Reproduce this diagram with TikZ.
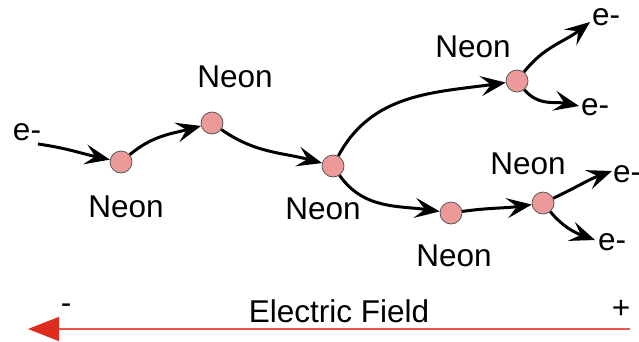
\documentclass[tikz,border=0pt]{standalone}
\usepackage{fontspec}
\setmainfont{Liberation Sans}
\usetikzlibrary{arrows.meta}
\definecolor{neonfill}{RGB}{236,153,153}
\definecolor{fieldred}{RGB}{222,45,30}
\definecolor{fieldline}{RGB}{235,85,75}
\tikzset{
  atom/.style={circle,draw=black!70,line width=0.7pt,fill=neonfill,minimum size=22pt,inner sep=0pt},
  lbl/.style={font=\fontsize{31.5}{36}\selectfont,inner sep=0pt},
  path/.style={line width=3pt,-{Stealth[length=25pt,width=20pt,inset=10pt]}}
}
\begin{document}
\begin{tikzpicture}[x=1pt,y=1pt]
\useasboundingbox (0,0) rectangle (639,341);
% atoms
\node[atom] (A) at (121,179) {};
\node[atom] (B) at (212,218) {};
\node[atom] (C) at (333,175) {};
\node[atom] (D) at (517,260) {};
\node[atom] (E) at (451,128) {};
\node[atom] (F) at (543,138) {};
% labels
\node[lbl] (ein) at (27,209) {e-};
\node[lbl] (nA) at (126,134) {Neon};
\node[lbl] (nB) at (235,264) {Neon};
\node[lbl] (nC) at (323,132) {Neon};
\node[lbl] (nD) at (473,294) {Neon};
\node[lbl] (nF) at (528,177) {Neon};
\node[lbl] (nE) at (454,85) {Neon};
\node[lbl] (e1) at (606,324) {e-};
\node[lbl] (e2) at (595,234) {e-};
\node[lbl,anchor=west] (e3) at (613,167) {e-};
\node[lbl] (e4) at (612,99) {e-};
% free ends
\coordinate (s0) at (38,197);
\coordinate (t1) at (590,319);
\coordinate (t2) at (579,235);
\coordinate (t3) at (612,170);
\coordinate (t4) at (595,101);
% paths
\draw[path] (s0) to[out=-8,in=168] (A);
\draw[path] (A) to[out=40,in=195] (B);
\draw[path] (B) to[out=-35,in=165] (C);
\draw[path] (C) to[out=62,in=188] (D);
\draw[path] (C) to[out=-55,in=172] (E);
\draw[path] (E) to[out=8,in=188] (F);
\draw[path] (D) to[out=52,in=218] (t1);
\draw[path] (D) to[out=-50,in=168] (t2);
\draw[path] (F) to[out=25,in=200] (t3);
\draw[path] (F) to[out=-50,in=160] (t4);
% electric field
\coordinate (fR) at (630,12);
\coordinate (fL) at (28,12);
\draw[fieldline,line width=1.4pt,-{Triangle[length=31pt,width=24pt,color=fieldred]}] (fR) -- (fL);
\node[lbl] (ef) at (339,30) {Electric Field};
\node[lbl] (minus) at (66,32) {-};
\node[lbl] (plus) at (621,32) {+};
\end{tikzpicture}
\end{document}
